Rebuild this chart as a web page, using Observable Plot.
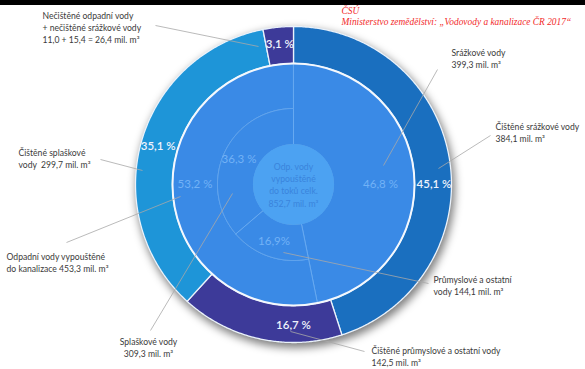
<!DOCTYPE html>
<html><head><meta charset="utf-8">
<script src="https://cdn.jsdelivr.net/npm/d3@7"></script>
<script src="https://cdn.jsdelivr.net/npm/@observablehq/plot@0.6"></script>
<style>
body{margin:0;background:#fff;width:585px;height:369px;overflow:hidden}
#bar{height:5px;background:#000}
#chart svg{display:block}
</style>
</head><body><div id="bar"></div><div id="chart"></div>
<script>
// ---------- data ----------
const total = 852.7;
const innerNames = ["Srážkové vody", "Odpadní vody vypouštěné do kanalizace"];
const innerValues = [399.3, 453.3];
const innerPct = ["46,8 %", "53,2 %"];
const middleNames = ["Průmyslové a ostatní vody", "Splaškové vody"];
const middleValues = [144.1, 309.3];
const middlePct = ["16,9%", "36,3 %"];
const outerNames = ["Čištěné srážkové vody", "Čištěné průmyslové a ostatní vody", "Čištěné splaškové vody", "Nečištěné odpadní a srážkové vody"];
const outerValues = [384.1, 142.5, 299.7, 26.4];
const outerPct = ["45,1 %", "16,7 %", "35,1 %", "3,1 %"];
const centerText = "Odp. vody\nvypouštěné\ndo toků celk.\n852,7 mil. m³";
const calloutTexts = [
  "Nečištěné odpadní vody\n+ nečištěné srážkové vody\n11,0 + 15,4 = 26,4 mil. m³",
  "Srážkové vody\n399,3 mil. m³",
  "Čištěné srážkové vody\n384,1 mil. m³",
  "Čištěné splaškové\nvody  299,7 mil. m³",
  "Odpadní vody vypouštěné\ndo kanalizace 453,3 mil. m³",
  "Splaškové vody\n309,3 mil. m³",
  "Průmyslové a ostatní\nvody 144,1 mil. m³",
  "Čištěné průmyslové a ostatní vody\n142,5 mil. m³"
];
const sourceLines = ["ČSÚ", "Ministerstvo zemědělství: „Vodovody a kanalizace ČR 2017“"];

// ---------- layout & style ----------
const W = 585, H = 364, TOP = 5;
const C = [293, 184]; // centre in page coords
const R = {center: 40, middle: 76, inner: 121, outer: 158};
const outerFills = ["#1a6fbf", "#3d3a99", "#1e95d8", "#3d3a99"];
const innerFill = "#3a8ae6", innerStroke = "#66a9f1", centerFill = "#4ca2f2";
const calloutLayout = [
  {x: 42, y: 26.5, anchor: "start", from: [155, 25], to: [258, 46]},
  {x: 451, y: 58, anchor: "start", from: [437, 69], to: [383, 165]},
  {x: 495, y: 132, anchor: "start", from: [490, 135], to: [438, 168]},
  {x: 18, y: 158, anchor: "start", from: [100, 159], to: [142, 170]},
  {x: 6, y: 262, anchor: "start", from: [66, 242], to: [180, 196]},
  {x: 148, y: 347, anchor: "middle", from: [150, 330], to: [232, 193]},
  {x: 433, y: 285, anchor: "start", from: [428, 283], to: [283, 252]},
  {x: 371, y: 356, anchor: "start", from: [364, 351], to: [290, 331]}
];
const sourcePos = {x: 341, y1: 13.5, y2: 24};
const P = ([x, y]) => ({x: x - C[0], y: y - C[1]});

// ---------- geometry from data ----------
const pt = (deg, r) => ({x: r * Math.sin(deg * Math.PI / 180), y: -r * Math.cos(deg * Math.PI / 180)});
function ring(values, names, pcts, start, r0, r1) {
  let acc = 0;
  return values.map((v, i) => {
    const a0 = start + acc / total * 360; acc += v;
    const a1 = start + acc / total * 360;
    return {name: names[i], pct: pcts[i], a0, a1, r0, r1};
  });
}
function polygon(s) {
  const n = Math.max(2, Math.ceil((s.a1 - s.a0) / 0.5));
  const pts = [];
  for (let k = 0; k <= n; k++) pts.push(pt(s.a0 + (s.a1 - s.a0) * k / n, s.r1));
  for (let k = n; k >= 0; k--) pts.push(pt(s.a0 + (s.a1 - s.a0) * k / n, s.r0));
  pts.push(pts[0]);
  return pts;
}
function labelAngle(s) {
  const mid = (s.a0 + s.a1) / 2;
  const snap = Math.round(mid / 90) * 90;
  return (Math.abs(snap - mid) <= 15 && snap > s.a0 && snap < s.a1) ? snap : mid;
}
const inner = ring(innerValues, innerNames, innerPct, 0, R.center, R.inner);
inner[1].r0 = R.middle;
const middle = ring(middleValues, middleNames, middlePct, inner[0].a1, R.center, R.middle);
const outer = ring(outerValues, outerNames, outerPct, 0, R.inner, R.outer);

const innerLabelR = [87, 98.5];
const innerLabels = inner.map((s, i) => ({...pt(labelAngle(s), innerLabelR[i]), t: s.pct}))
  .concat(middle.map(s => ({...pt(labelAngle(s), (s.r0 + s.r1) / 2 + 2), t: s.pct})));
const outerLabels = outer.map(s => ({...pt(labelAngle(s), (s.r0 + s.r1) / 2 + 1), t: s.pct}));

const callouts = calloutTexts.map((t, i) => {
  const L = calloutLayout[i];
  const p = P([L.x, L.y]), a = P(L.from), b = P(L.to);
  return {t, x: p.x, y: p.y, anchor: L.anchor, x1: a.x, y1: a.y, x2: b.x, y2: b.y};
});

const font = "Lato, 'Open Sans', sans-serif";
const marks = [
  Plot.dot([{x: 2, y: 4}], {x: "x", y: "y", r: R.outer + 1.5, fill: "#000", fillOpacity: 0.5, stroke: "none"}),
  ...outer.map((s, i) => Plot.line(polygon(s), {x: "x", y: "y", fill: outerFills[i], stroke: "#eaf2fb", strokeWidth: 1.3, curve: "linear"})),
  ...inner.concat(middle).map(s => Plot.line(polygon(s), {x: "x", y: "y", fill: innerFill, stroke: innerStroke, strokeWidth: 1, curve: "linear"})),
  Plot.dot([{x: 0, y: 0}], {x: "x", y: "y", r: R.inner, fill: "none", stroke: "#f4f8fd", strokeWidth: 2}),
  Plot.dot([{x: 0, y: 0}], {x: "x", y: "y", r: R.center + 0.6, fill: centerFill, stroke: "none"}),
  Plot.link(callouts, {x1: "x1", y1: "y1", x2: "x2", y2: "y2", stroke: "#a8a8a8", strokeWidth: 0.8}),
  Plot.text(outerLabels, {x: "x", y: "y", text: "t", fill: "#eef3fc", fontSize: 11.5, fontWeight: 600, fontFamily: font}),
  Plot.text(innerLabels, {x: "x", y: "y", text: "t", fill: "#72b2f6", fontSize: 11.5, fontFamily: font}),
  Plot.text([centerText], {x: () => 0, y: () => 0, text: d => d, fill: "#3a84dc", fontSize: 8.7, lineHeight: 1.4, fontFamily: font}),
  ...["start", "middle"].map(anc => Plot.text(callouts.filter(d => d.anchor === anc), {x: "x", y: "y", text: "t", textAnchor: anc, fill: "#3a3a3a", fontSize: 8.6, lineHeight: 1.4, fontFamily: font})),
  Plot.text(sourceLines.map((t, i) => ({t, ...P([sourcePos.x, i ? sourcePos.y2 : sourcePos.y1])})),
    {x: "x", y: "y", text: "t", textAnchor: "start", lineAnchor: "bottom", fill: "#f22a2a", fontSize: 9.4, fontStyle: "italic", fontFamily: "'Liberation Serif', serif"})
];

const chart = Plot.plot({
  width: W, height: H, margin: 0,
  x: {domain: [-C[0], W - C[0]], range: [0, W], axis: null},
  y: {domain: [-(C[1] - TOP), H - (C[1] - TOP)], range: [0, H], axis: null},
  style: {background: "#fff", overflow: "visible"},
  marks
});
// soft shadow behind the ring
const svg = d3.select(chart);
svg.insert("defs", ":first-child").html('<filter id="sh" x="-20%" y="-20%" width="140%" height="140%"><feGaussianBlur stdDeviation="4"/></filter>');
svg.select('g[aria-label="dot"]').attr("filter", "url(#sh)");
document.getElementById("chart").appendChild(chart);
</script>
</body></html>
